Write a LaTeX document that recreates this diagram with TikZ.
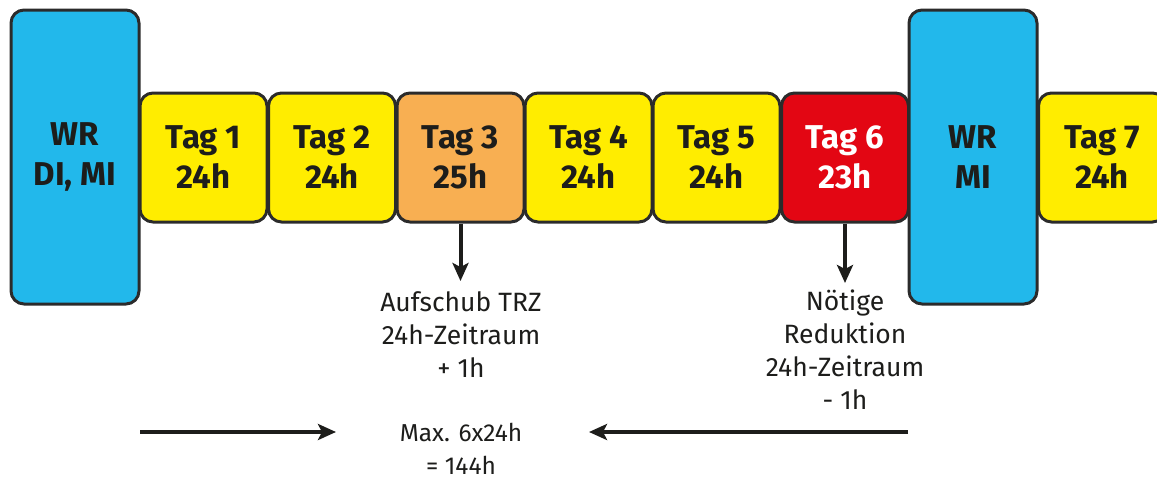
\documentclass[tikz,border=0pt]{standalone}
\usepackage{fontspec}
\setmainfont{Fira Sans}
\usetikzlibrary{arrows.meta}
\definecolor{wrblue}{HTML}{22B8EB}
\definecolor{tagyellow}{HTML}{FFED00}
\definecolor{tagorange}{HTML}{F8AF52}
\definecolor{tagred}{HTML}{E30613}
\definecolor{edgecol}{HTML}{2B2B2B}
\definecolor{ink}{HTML}{1D1D1B}
\tikzset{
 daybox/.style={draw=edgecol, line width=3pt, rounded corners=13pt, minimum width=127pt, minimum height=129pt, inner sep=0pt, align=center, font=\fontsize{33}{40}\selectfont\bfseries, text=ink},
 wrbox/.style={daybox, fill=wrblue, minimum width=128pt, minimum height=294pt},
 note/.style={align=center, font=\fontsize{26.5}{33}\selectfont, text=ink, inner sep=0pt, anchor=north},
 arr/.style={draw=ink, line width=4pt, -{Stealth[length=18pt,width=16pt,inset=4pt]}}
}
\begin{document}
\begin{tikzpicture}[x=1pt,y=-1pt]
\useasboundingbox (0,0) rectangle (1157,479);
\node[wrbox] (wr1) at (75,157) {WR\\DI, MI};
\node[daybox, fill=tagyellow] (t1) at (203.5,157.5) {Tag 1\\24h};
\node[daybox, fill=tagyellow] (t2) at (332,157.5) {Tag 2\\24h};
\node[daybox, fill=tagorange] (t3) at (460.5,157.5) {Tag 3\\25h};
\node[daybox, fill=tagyellow] (t4) at (588.5,157.5) {Tag 4\\24h};
\node[daybox, fill=tagyellow] (t5) at (716.5,157.5) {Tag 5\\24h};
\node[daybox, fill=tagred, text=white] (t6) at (845,157.5) {Tag 6\\23h};
\node[wrbox] (wr2) at (973,157) {WR\\MI};
\node[daybox, fill=tagyellow] (t7) at (1102,157.5) {Tag 7\\24h};
\coordinate (a3) at (460.5,281);
\coordinate (a6) at (845,283);
\draw[arr] (t3.south) -- (a3);
\draw[arr] (t6.south) -- (a6);
\node[note] (n3) at (461,291) {Aufschub TRZ\\24h-Zeitraum\\+ 1h};
\node[note] (n6) at (845,290) {Nötige\\Reduktion\\24h-Zeitraum\\- 1h};
\node[note, font=\fontsize{24.5}{33}\selectfont] (mx) at (461,423) {Max. 6x24h\\= 144h};
\coordinate (la) at (140,432);
\coordinate (lb) at (336,432);
\coordinate (ra) at (908,432);
\coordinate (rb) at (589,432);
\draw[arr] (la) -- (lb);
\draw[arr] (ra) -- (rb);
\end{tikzpicture}
\end{document}
